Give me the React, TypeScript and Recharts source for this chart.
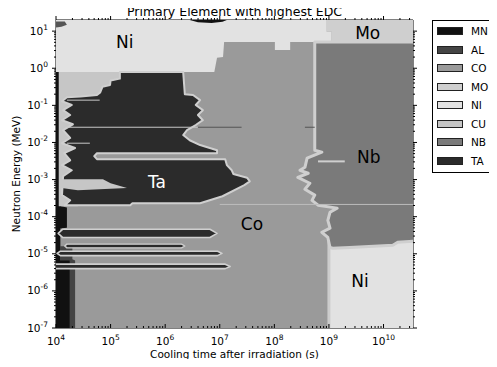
import React from 'react';
import { ComposedChart, Scatter, XAxis, YAxis, Legend, Label } from 'recharts';

type Pt = [number, number];

// all coordinates: x = log10(cooling time / s), y = log10(neutron energy / MeV)
const X_DOMAIN: [number, number] = [4, 10.54];
const Y_DOMAIN: [number, number] = [-7, 1.3];

const xDecades = [4, 5, 6, 7, 8, 9, 10];
const yDecades = [-7, -6, -5, -4, -3, -2, -1, 0, 1];
const minorSteps = [2, 3, 4, 5, 6, 7, 8, 9];

const elements = ['MN', 'AL', 'CO', 'MO', 'NI', 'CU', 'NB', 'TA'];
const elementColors = ['#111111', '#444444', '#9a9a9a', '#cfcfcf', '#e2e2e2', '#c6c6c6', '#7a7a7a', '#2b2b2b'];

const coBackground: Pt[] = [[4, -7], [10.54, -7], [10.54, 1.3], [4, 1.3]];

const niTop: Pt[] = [
  [4, 1.3], [8.96, 1.3], [8.96, 0.98], [9.05, 0.98], [9.05, 0.71], [8.29, 0.71], [8.29, 0.49],
  [8.01, 0.49], [8.01, 0.71], [7.08, 0.71], [7.06, 0.3], [6.95, 0.28], [6.9, -0.1], [4, -0.1]
];

const moTop: Pt[] = [[8.96, 1.3], [10.54, 1.3], [10.54, 0.71], [9.05, 0.71], [9.05, 0.98], [8.96, 0.98]];

const alCorner: Pt[] = [[4, 1.26], [4.16, 1.26], [4.2, 1.17], [4.1, 1.12], [4, 1.1]];

const alBottom: Pt[] = [[4.08, -4.8], [4.3, -4.8], [4.3, -5.15], [4.35, -5.18], [4.35, -7], [4.08, -7]];

const mnStrip: Pt[] = [
  [4, -0.1], [4.09, -0.1], [4.09, -3.72], [4.2, -3.75], [4.2, -4.3], [4.08, -4.32],
  [4.08, -5.18], [4.25, -5.18], [4.25, -7], [4, -7]
];

const mnBlob: Pt[] = [[6.45, 1.3], [7.13, 1.3], [7.05, 1.25], [6.85, 1.22], [6.6, 1.24]];

const cuBacking: Pt[] = [[4.05, -0.1], [5.25, -0.1], [5.25, -0.8], [4.4, -0.8], [4.4, -3.72], [4.05, -3.72]];

const taMain: Pt[] = [
  [5.17, -0.1], [6.33, -0.1], [6.36, -0.7], [6.51, -0.72], [6.64, -0.86], [6.56, -0.99], [6.69, -1.13],
  [6.6, -1.26], [6.69, -1.4], [6.56, -1.53], [6.4, -1.67], [6.33, -1.8], [6.45, -1.94], [6.64, -2.07],
  [6.95, -2.21], [6.95, -2.29], [4.75, -2.29], [4.7, -2.37], [4.75, -2.45], [7.1, -2.45], [7.13, -2.61],
  [7.22, -2.75], [7.25, -2.85], [7.5, -2.95], [7.55, -3.05], [7.45, -3.15], [7.05, -3.45], [6.64, -3.64],
  [5.4, -3.64], [5.36, -3.69], [4.16, -3.69],
  [4.26, -3.56], [4.11, -3.42], [4.13, -2.91], [4.29, -2.75], [4.11, -2.61], [4.26, -2.48], [4.15, -2.29],
  [4.35, -2.15], [4.11, -2.02], [4.26, -1.88], [4.13, -1.67], [4.31, -1.51], [4.11, -1.4], [4.26, -1.26],
  [4.13, -1.13], [4.29, -0.99], [4.11, -0.89], [4.2, -0.78], [4.45, -0.76], [4.75, -0.72], [4.81, -0.65],
  [4.85, -0.5], [4.99, -0.45], [5.0, -0.33], [5.17, -0.28]
];

const cuPatch: Pt[] = [[4.07, -2.99], [4.86, -2.99], [5.0, -3.1], [5.3, -3.23], [4.4, -3.29], [4.07, -3.22]];

const taStripe1: Pt[] = [[4.12, -4.34], [6.82, -4.34], [6.95, -4.45], [6.82, -4.56], [4.12, -4.56], [4.04, -4.45]];
const taStripe2: Pt[] = [[4.2, -4.74], [6.3, -4.74], [6.36, -4.79], [6.3, -4.84], [4.2, -4.84], [4.16, -4.79]];
const taStripe3: Pt[] = [[4.08, -4.93], [6.96, -4.93], [7.04, -4.99], [6.96, -5.05], [4.08, -5.05], [4.02, -4.99]];
const taStripe4: Pt[] = [[3.98, -5.28], [7.1, -5.28], [7.19, -5.34], [7.1, -5.4], [3.98, -5.4]];

const niBottom: Pt[] = [[9.0, -4.6], [10.8, -4.6], [10.8, -7.4], [9.0, -7.4]];

const nbRight: Pt[] = [
  [8.74, 0.71], [10.8, 0.71], [10.8, -4.64], [10.26, -4.69], [10.17, -4.77], [9.38, -4.83], [9.07, -4.85],
  [9.02, -4.83], [8.98, -4.56], [8.87, -4.42], [9.02, -4.31], [8.98, -4.1], [9.02, -3.88], [9.15, -3.77],
  [8.8, -3.69], [8.69, -3.56], [8.74, -3.42], [8.56, -3.26], [8.65, -3.1], [8.43, -2.94], [8.62, -2.83],
  [8.47, -2.75], [8.56, -2.67], [8.6, -2.42], [8.87, -2.26], [8.74, -2.21]
];

const lightLineA: Pt[] = [[4.2, -1.59], [6.6, -1.59]];
const darkLineA: Pt[] = [[6.6, -1.59], [7.4, -1.59]];
const darkLineB: Pt[] = [[8.56, -1.59], [8.74, -1.59]];
const lightLineB: Pt[] = [[4.2, -0.86], [4.8, -0.86]];
const lightLineC: Pt[] = [[4.2, -2.02], [4.62, -2.02]];
const lightLineD: Pt[] = [[7.0, -3.67], [10.54, -3.67]];
const nbSpike: Pt[] = [[8.8, -2.51], [9.29, -2.51]];

const regionLabels = [
  { x: 5.26, y: 0.71, text: 'Ni' },
  { x: 9.71, y: 0.95, text: 'Mo' },
  { x: 9.73, y: -2.4, text: 'Nb' },
  { x: 5.85, y: -3.07, text: 'Ta' },
  { x: 7.59, y: -4.21, text: 'Co' },
  { x: 9.57, y: -5.72, text: 'Ni' }
];

const OUTLINE = '#cfcfcf';
const FONT = 'DejaVu Sans, sans-serif';

const xTicks = [
  ...xDecades,
  ...xDecades.flatMap((d) => minorSteps.map((k) => d + Math.log10(k))).filter((v) => v <= X_DOMAIN[1])
];
const yTicks = [
  ...yDecades,
  ...yDecades.flatMap((d) => minorSteps.map((k) => d + Math.log10(k))).filter((v) => v <= Y_DOMAIN[1])
];

const toRows = (pts: Pt[]) => pts.map(([x, y]) => ({ x, y }));
const isMajor = (v: number) => Math.abs(v - Math.round(v)) < 1e-6;
const Nothing = () => <g />;

function polygonLine(fill: string, stroke = 'none', strokeWidth = 0) {
  return (props: any) => (
    <polygon
      points={props.points.map((q: any) => `${q.x},${q.y}`).join(' ')}
      fill={fill}
      stroke={stroke}
      strokeWidth={strokeWidth}
      strokeLinejoin="round"
    />
  );
}

function polylineLine(stroke: string, strokeWidth: number) {
  return (props: any) => (
    <polyline
      points={props.points.map((q: any) => `${q.x},${q.y}`).join(' ')}
      fill="none"
      stroke={stroke}
      strokeWidth={strokeWidth}
    />
  );
}

const regions: Array<{ pts: Pt[]; fill: string; stroke?: string; sw?: number }> = [
  { pts: coBackground, fill: elementColors[2] },
  { pts: niTop, fill: elementColors[4] },
  { pts: alCorner, fill: '#555555' },
  { pts: mnBlob, fill: elementColors[0] },
  { pts: alBottom, fill: elementColors[1] },
  { pts: mnStrip, fill: elementColors[0] },
  { pts: cuBacking, fill: elementColors[5] },
  { pts: taMain, fill: elementColors[7], stroke: OUTLINE, sw: 2 },
  { pts: cuPatch, fill: elementColors[5] },
  { pts: taStripe1, fill: elementColors[7], stroke: OUTLINE, sw: 1.6 },
  { pts: taStripe2, fill: elementColors[7], stroke: OUTLINE, sw: 1.4 },
  { pts: taStripe3, fill: elementColors[7], stroke: OUTLINE, sw: 1.6 },
  { pts: taStripe4, fill: elementColors[7], stroke: OUTLINE, sw: 1.6 },
  { pts: niBottom, fill: elementColors[4], stroke: '#cccccc', sw: 3 },
  { pts: nbRight, fill: elementColors[6], stroke: OUTLINE, sw: 3 },
  { pts: moTop, fill: elementColors[3] }
];

const lines: Array<{ pts: Pt[]; stroke: string; sw: number }> = [
  { pts: lightLineA, stroke: '#c8c8c8', sw: 1 },
  { pts: darkLineA, stroke: '#555555', sw: 1 },
  { pts: darkLineB, stroke: '#555555', sw: 1 },
  { pts: lightLineB, stroke: '#c8c8c8', sw: 1 },
  { pts: lightLineC, stroke: '#c8c8c8', sw: 1 },
  { pts: lightLineD, stroke: '#bdbdbd', sw: 1 },
  { pts: nbSpike, stroke: OUTLINE, sw: 2 }
];

const BottomTick = (props: any) => {
  const { x, y, payload } = props;
  const v = payload.value;
  const major = isMajor(v);
  return (
    <g>
      <line x1={x} y1={y} x2={x} y2={y - (major ? 4 : 2)} stroke="#000" />
      {major && (
        <text x={x} y={y + 17} textAnchor="middle" fontSize={10.5} fontFamily={FONT} fill="#000">
          <tspan>10</tspan>
          <tspan dy={-5} fontSize={7.5}>{Math.round(v)}</tspan>
        </text>
      )}
    </g>
  );
};

const LeftTick = (props: any) => {
  const { x, y, payload } = props;
  const v = payload.value;
  const major = isMajor(v);
  return (
    <g>
      <line x1={x} y1={y} x2={x - (major ? 4 : 2)} y2={y} stroke="#000" />
      {major && (
        <text x={x - 8} y={y + 3.5} textAnchor="end" fontSize={10.5} fontFamily={FONT} fill="#000">
          <tspan>10</tspan>
          <tspan dy={-5} fontSize={7.5}>{Math.round(v)}</tspan>
        </text>
      )}
    </g>
  );
};

const TopTick = (props: any) => {
  const { x, y, payload } = props;
  return <line x1={x} y1={y} x2={x} y2={y - (isMajor(payload.value) ? 4 : 2)} stroke="#000" />;
};

const RightTick = (props: any) => {
  const { x, y, payload } = props;
  return <line x1={x} y1={y} x2={x + (isMajor(payload.value) ? 4 : 2)} y2={y} stroke="#000" />;
};

const RegionLabel = (props: any) => {
  const { cx, cy, payload } = props;
  return (
    <text
      x={cx}
      y={cy}
      textAnchor="middle"
      dominantBaseline="central"
      fontSize={17}
      fontFamily={FONT}
      fill={payload.text === 'Ta' ? '#ffffff' : '#000000'}
    >
      {payload.text}
    </text>
  );
};

const LegendBox = () => (
  <div
    style={{
      boxSizing: 'border-box',
      width: 80,
      height: 153,
      border: '1px solid #000',
      background: '#fff',
      position: 'relative',
      fontFamily: FONT,
      fontSize: 10.5
    }}
  >
    {elements.map((el, i) => (
      <React.Fragment key={el}>
        <div
          style={{
            position: 'absolute',
            left: 4,
            top: 6 + 18.5 * i,
            width: 26,
            height: 8,
            boxSizing: 'border-box',
            border: '1px solid #222',
            background: elementColors[i]
          }}
        />
        <div style={{ position: 'absolute', left: 38, top: 3 + 18.5 * i, lineHeight: '14px', color: '#000' }}>{el}</div>
      </React.Fragment>
    ))}
  </div>
);

export default function App() {
  return (
    <div style={{ margin: -8, width: 497, height: 367, overflow: 'hidden', background: '#fff' }}>
      <ComposedChart width={497} height={367} margin={{ top: 0, right: 0, bottom: 0, left: 0 }}>
        {regions.map((r, i) => (
          <Scatter
            key={`r${i}`}
            data={toRows(r.pts)}
            shape={Nothing}
            line={polygonLine(r.fill, r.stroke, r.sw)}
            isAnimationActive={false}
          />
        ))}
        {lines.map((l, i) => (
          <Scatter
            key={`l${i}`}
            data={toRows(l.pts)}
            shape={Nothing}
            line={polylineLine(l.stroke, l.sw)}
            isAnimationActive={false}
          />
        ))}
        <Scatter data={regionLabels} shape={RegionLabel} isAnimationActive={false} />
        <XAxis
          type="number"
          dataKey="x"
          domain={X_DOMAIN}
          allowDataOverflow
          ticks={xTicks}
          interval={0}
          tick={BottomTick}
          tickLine={false}
          tickSize={0}
          tickMargin={0}
          height={39}
          axisLine={{ stroke: '#000' }}
        >
          <Label
            content={(p: any) => (
              <text
                x={p.viewBox.x + p.viewBox.width / 2}
                y={p.viewBox.y + 30}
                textAnchor="middle"
                fontSize={10.5}
                fontFamily={FONT}
                fill="#000"
              >
                Cooling time after irradiation (s)
              </text>
            )}
          />
        </XAxis>
        <XAxis
          xAxisId="top"
          orientation="top"
          type="number"
          dataKey="x"
          domain={X_DOMAIN}
          allowDataOverflow
          ticks={xTicks}
          interval={0}
          tick={TopTick}
          tickLine={false}
          tickSize={0}
          tickMargin={0}
          height={20}
          axisLine={{ stroke: '#000' }}
        >
          <Label
            content={(p: any) => (
              <text
                x={p.viewBox.x + p.viewBox.width / 2}
                y={16}
                textAnchor="middle"
                fontSize={12.5}
                fontFamily={FONT}
                fill="#000"
              >
                Primary Element with highest EDC
              </text>
            )}
          />
        </XAxis>
        <YAxis
          type="number"
          dataKey="y"
          domain={Y_DOMAIN}
          allowDataOverflow
          ticks={yTicks}
          interval={0}
          tick={LeftTick}
          tickLine={false}
          tickSize={0}
          tickMargin={0}
          width={56}
          axisLine={{ stroke: '#000' }}
        >
          <Label
            content={(p: any) => {
              const cx = 20;
              const cy = p.viewBox.y + p.viewBox.height / 2;
              return (
                <text
                  x={cx}
                  y={cy}
                  transform={`rotate(-90 ${cx} ${cy})`}
                  textAnchor="middle"
                  fontSize={10.5}
                  fontFamily={FONT}
                  fill="#000"
                >
                  Neutron Energy (MeV)
                </text>
              );
            }}
          />
        </YAxis>
        <YAxis
          yAxisId="right"
          orientation="right"
          type="number"
          dataKey="y"
          domain={Y_DOMAIN}
          allowDataOverflow
          ticks={yTicks}
          interval={0}
          tick={RightTick}
          tickLine={false}
          tickSize={0}
          tickMargin={0}
          width={84}
          axisLine={{ stroke: '#000' }}
        />
        <Legend
          layout="vertical"
          align="center"
          verticalAlign="middle"
          wrapperStyle={{ position: 'absolute', left: 432, top: 20, width: 80, height: 153 }}
          content={() => <LegendBox />}
        />
      </ComposedChart>
    </div>
  );
}
